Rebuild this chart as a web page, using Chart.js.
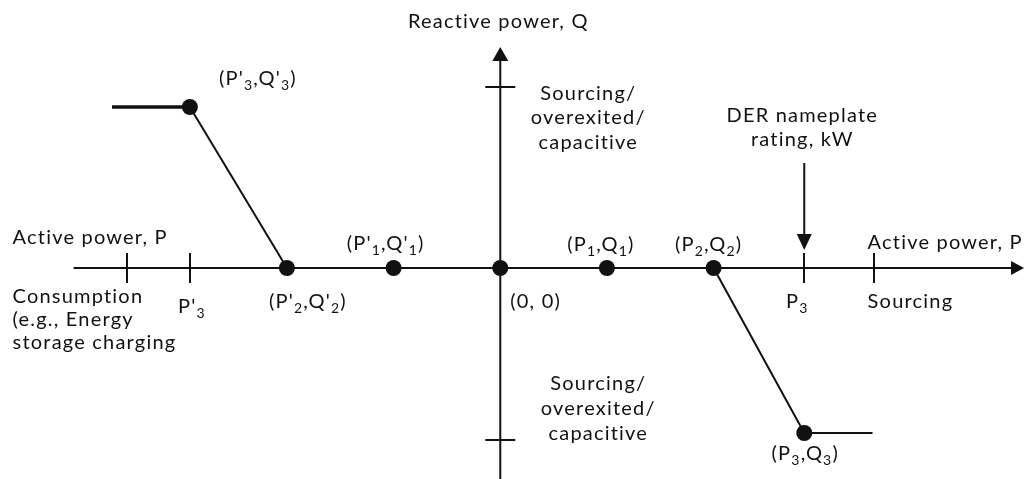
<!DOCTYPE html>
<html>
<head>
<meta charset="utf-8">
<script src="https://cdn.jsdelivr.net/npm/chart.js@4/dist/chart.umd.min.js"></script>
<style>
  html, body { margin: 0; padding: 0; background: #fff; overflow: hidden; }
  canvas { display: block; }
</style>
</head>
<body>
<canvas id="chart" width="1024" height="479"></canvas>
<script>
// Reactive power characteristic: breakpoints in active power P vs reactive power Q
const curveP = [-3.64, -2.91, -2, -1, 0, 1, 2, 2.85, 3.49];
const curveQ = [1.61, 1.61, 0, 0, 0, 0, 0, -1.65, -1.65];
const knotIndex = [1, 2, 3, 4, 5, 6, 7];

// Axis extents and tick positions
const pAxisRange = [-4.0, 4.91];
const qAxisRange = [-2.11, 2.21];
const pTicks = [-3.5, -2.91, 2.85, 3.5];
const qTicks = [1.81, -1.72];

// Nameplate rating marker (vertical arrow at P3)
const ratingP = 2.85;
const ratingArrowQ = [1.05, 0.18];

// Text; {..} marks a subscript
const pointLabels = ["(P'{3},Q'{3})", "(P'{2},Q'{2})", "(P'{1},Q'{1})", "(0, 0)", "(P{1},Q{1})", "(P{2},Q{2})", "(P{3},Q{3})"];
const tickLabels = ["P'{3}", "P{3}", "Sourcing"];
const quadrantLines = ["Sourcing/", "overexited/", "capacitive"];
const consumptionLines = ["Consumption", "(e.g., Energy", "storage charging"];
const ratingLines = ["DER nameplate", "rating, kW"];
const axisTitleP = "Active power, P";
const axisTitleQ = "Reactive power, Q";

const FONT = "Lato, 'Open Sans', sans-serif";
const FONT_SIZE = 20;
const INK = '#111';

const lineData = curveP.map((p, i) => ({ x: p, y: curveQ[i] }));

// Text layout: anchor in data space plus a pixel offset to the baseline
const textItems = [
  { text: axisTitleQ, at: [0, qAxisRange[1]], dx: -2, dy: -19, align: 'center' },
  { text: pointLabels[0], at: [curveP[1], curveQ[1]], dx: 68, dy: -22, align: 'center' },
  { text: pointLabels[1], at: [curveP[2], curveQ[2]], dx: 21, dy: 40, align: 'center' },
  { text: pointLabels[2], at: [curveP[3], curveQ[3]], dx: -8, dy: -18, align: 'center' },
  { text: pointLabels[3], at: [curveP[4], curveQ[4]], dx: 10, dy: 40, align: 'left' },
  { text: pointLabels[4], at: [curveP[5], curveQ[5]], dx: -6, dy: -17, align: 'center' },
  { text: pointLabels[5], at: [curveP[6], curveQ[6]], dx: -5, dy: -17, align: 'center' },
  { text: pointLabels[6], at: [curveP[7], curveQ[7]], dx: 1, dy: 27, align: 'center' },
  { text: tickLabels[0], at: [pTicks[1], 0], dx: 2, dy: 45, align: 'center' },
  { text: tickLabels[1], at: [pTicks[2], 0], dx: -7, dy: 40, align: 'center' },
  { text: tickLabels[2], at: [pTicks[3], 0], dx: -6, dy: 40, align: 'left' },
  { text: axisTitleP, at: [pAxisRange[0], 0], dx: -61, dy: -24, align: 'left' },
  { text: axisTitleP, at: [pTicks[3], 0], dx: -6, dy: -19, align: 'left' },
  { text: consumptionLines[0], at: [pAxisRange[0], 0], dx: -61, dy: 35, align: 'left' },
  { text: consumptionLines[1], at: [pAxisRange[0], 0], dx: -61, dy: 58, align: 'left' },
  { text: consumptionLines[2], at: [pAxisRange[0], 0], dx: -61, dy: 81, align: 'left' },
  { text: quadrantLines[0], at: [0, 0], dx: 88, dy: -168, align: 'center' },
  { text: quadrantLines[1], at: [0, 0], dx: 88, dy: -144, align: 'center' },
  { text: quadrantLines[2], at: [0, 0], dx: 88, dy: -119, align: 'center' },
  { text: quadrantLines[0], at: [0, 0], dx: 98, dy: 122, align: 'center' },
  { text: quadrantLines[1], at: [0, 0], dx: 98, dy: 147, align: 'center' },
  { text: quadrantLines[2], at: [0, 0], dx: 98, dy: 172, align: 'center' },
  { text: ratingLines[0], at: [ratingP, ratingArrowQ[0]], dx: -2, dy: -41, align: 'center' },
  { text: ratingLines[1], at: [ratingP, ratingArrowQ[0]], dx: -2, dy: -17, align: 'center' }
];

function splitRich(str) {
  const parts = [];
  const re = /\{([^}]*)\}/g;
  let last = 0, m;
  while ((m = re.exec(str)) !== null) {
    if (m.index > last) parts.push({ t: str.slice(last, m.index), sub: false });
    parts.push({ t: m[1], sub: true });
    last = re.lastIndex;
  }
  if (last < str.length) parts.push({ t: str.slice(last), sub: false });
  return parts;
}

function drawRich(ctx, str, x, y, align) {
  const parts = splitRich(str);
  const mainFont = FONT_SIZE + 'px ' + FONT;
  const subFont = Math.round(FONT_SIZE * 0.68) + 'px ' + FONT;
  let total = 0;
  parts.forEach(pt => {
    ctx.font = pt.sub ? subFont : mainFont;
    pt.w = ctx.measureText(pt.t).width;
    total += pt.w;
  });
  let cx = align === 'center' ? x - total / 2 : (align === 'right' ? x - total : x);
  parts.forEach(pt => {
    ctx.font = pt.sub ? subFont : mainFont;
    ctx.fillText(pt.t, cx, pt.sub ? y + 5 : y);
    cx += pt.w;
  });
}

function triangle(ctx, tip, dir, len, half) {
  // dir: unit vector pointing from base to tip
  const bx = tip[0] - dir[0] * len, by = tip[1] - dir[1] * len;
  const nx = -dir[1], ny = dir[0];
  ctx.beginPath();
  ctx.moveTo(tip[0], tip[1]);
  ctx.lineTo(bx + nx * half, by + ny * half);
  ctx.lineTo(bx - nx * half, by - ny * half);
  ctx.closePath();
  ctx.fill();
}

const decorations = {
  id: 'decorations',
  afterDatasetsDraw(chart) {
    const { ctx, scales: { x, y } } = chart;
    const x0 = x.getPixelForValue(0), y0 = y.getPixelForValue(0);
    ctx.save();
    ctx.strokeStyle = INK;
    ctx.fillStyle = INK;
    ctx.lineWidth = 2;
    // tick marks on the P axis
    pTicks.forEach(v => {
      const px = Math.round(x.getPixelForValue(v));
      ctx.beginPath();
      ctx.moveTo(px, y0 - 15);
      ctx.lineTo(px, y0 + 15);
      ctx.stroke();
    });
    // tick marks on the Q axis
    qTicks.forEach(v => {
      const py = Math.round(y.getPixelForValue(v));
      ctx.beginPath();
      ctx.moveTo(x0 - 15, py);
      ctx.lineTo(x0 + 15, py);
      ctx.stroke();
    });
    // arrowheads
    triangle(ctx, [x.getPixelForValue(pAxisRange[1]), y0], [1, 0], 13, 7);
    triangle(ctx, [x0, y.getPixelForValue(qAxisRange[1])], [0, -1], 14, 8);
    triangle(ctx, [x.getPixelForValue(ratingP), y.getPixelForValue(ratingArrowQ[1])], [0, 1], 16, 7.5);
    ctx.restore();
  },
  afterDraw(chart) {
    const { ctx, scales: { x, y } } = chart;
    ctx.save();
    ctx.fillStyle = INK;
    ctx.textBaseline = 'alphabetic';
    ctx.textAlign = 'left';
    try { ctx.letterSpacing = '1.2px'; } catch (e) {}
    textItems.forEach(it => {
      const px = x.getPixelForValue(it.at[0]) + it.dx;
      const py = y.getPixelForValue(it.at[1]) + it.dy;
      drawRich(ctx, it.text, px, py, it.align);
    });
    ctx.restore();
  }
};

new Chart(document.getElementById('chart'), {
  type: 'scatter',
  data: {
    datasets: [
      {
        label: 'Q(P) characteristic',
        data: lineData,
        showLine: true,
        borderColor: INK,
        backgroundColor: INK,
        borderWidth: 2,
        pointRadius: lineData.map((_, i) => knotIndex.includes(i) ? 8 : 0),
        pointBorderWidth: 0,
        pointBackgroundColor: INK,
        segment: {
          borderWidth: ctx => ctx.p0DataIndex === 0 ? 3.5 : 2
        }
      },
      {
        label: 'Rating marker',
        data: [{ x: ratingP, y: ratingArrowQ[0] }, { x: ratingP, y: ratingArrowQ[1] + 0.1 }],
        showLine: true,
        borderColor: INK,
        borderWidth: 2,
        pointRadius: 0
      },
      {
        label: 'P axis',
        data: [{ x: pAxisRange[0], y: 0 }, { x: pAxisRange[1] - 0.05, y: 0 }],
        showLine: true,
        borderColor: INK,
        borderWidth: 2,
        pointRadius: 0
      },
      {
        label: 'Q axis',
        data: [{ x: 0, y: qAxisRange[0] }, { x: 0, y: qAxisRange[1] - 0.05 }],
        showLine: true,
        borderColor: INK,
        borderWidth: 2,
        pointRadius: 0
      }
    ]
  },
  options: {
    responsive: false,
    animation: false,
    events: [],
    layout: { padding: 0 },
    plugins: { legend: { display: false }, tooltip: { enabled: false } },
    scales: {
      x: { type: 'linear', min: -4.69, max: 4.91, display: false },
      y: { type: 'linear', min: -2.11, max: 2.68, display: false }
    }
  },
  plugins: [decorations]
});
</script>
</body>
</html>
